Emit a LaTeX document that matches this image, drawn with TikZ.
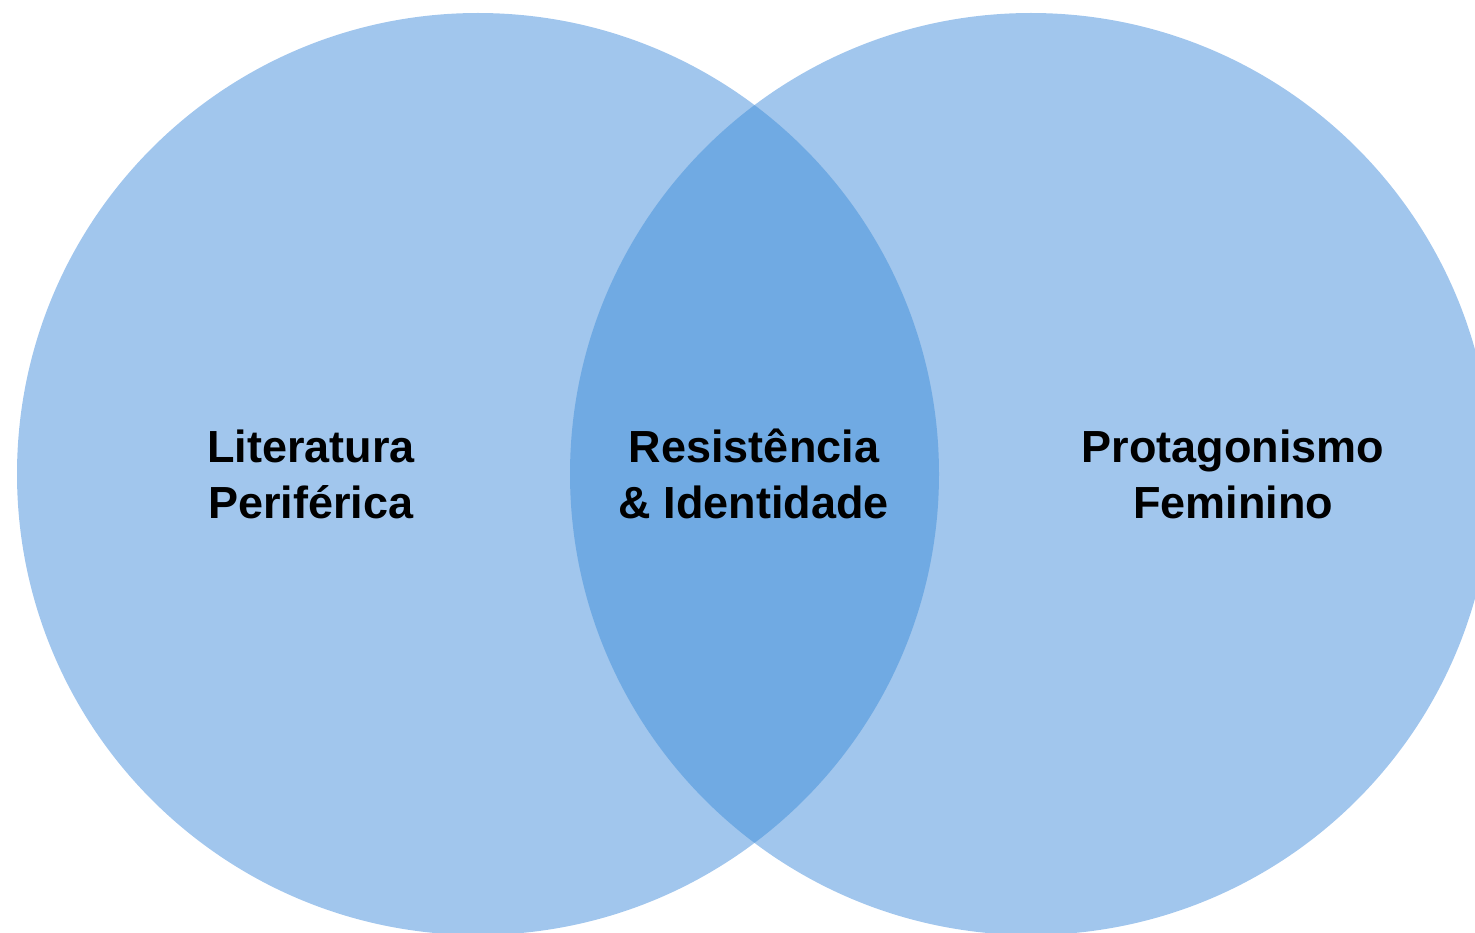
\documentclass[tikz,border=0pt]{standalone}
\usepackage{fontspec}
\setmainfont{Liberation Sans}
\definecolor{lightblue}{HTML}{A1C6ED}
\definecolor{midblue}{HTML}{70AAE3}
\begin{document}
\begin{tikzpicture}[x=1pt,y=-1pt,
  lbl/.style={align=center,font=\fontsize{45}{56}\selectfont\bfseries,text=black,inner sep=0pt}]
\useasboundingbox (0,0) rectangle (1475,933);
\begin{scope}
\clip (0,0) rectangle (1475,933);
\fill[lightblue] (478,474) circle (461);
\fill[lightblue] (1031,474) circle (461);
\begin{scope}
\clip (478,474) circle (461);
\fill[midblue] (1031,474) circle (461);
\end{scope}
\end{scope}
\node[lbl] (left) at (311,474) {Literatura\\Periférica};
\node[lbl] (mid) at (754,474) {Resistência\\\& Identidade};
\node[lbl] (right) at (1233,474) {Protagonismo\\Feminino};
\end{tikzpicture}
\end{document}
